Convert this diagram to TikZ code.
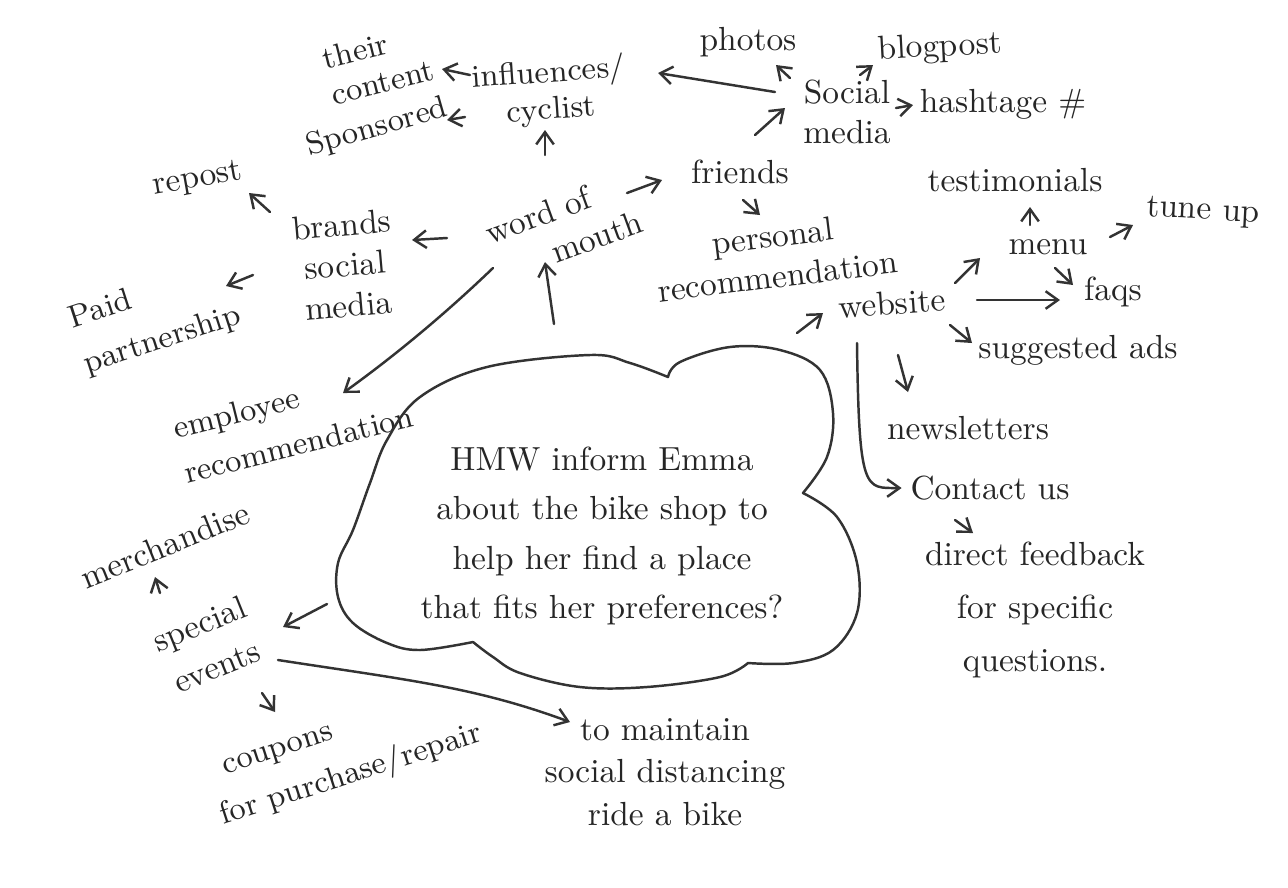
\documentclass[tikz,border=0pt]{standalone}
\usepackage{fontspec}
\usetikzlibrary{arrows.meta,calc}
\begin{document}
\begin{tikzpicture}[x=0.01cm,y=-0.01cm,
  lbl/.style={inner sep=1.5pt, font=\fontsize{9.5}{11.5}\selectfont, text=black!85, align=center},
  sm/.style={font=\fontsize{9}{10.5}\selectfont},
  arr/.style={-{Straight Barb[length=3.5pt,width=5pt]}, line width=0.7pt, draw=black!80, line cap=round, line join=round},
  ln/.style={line width=0.7pt, draw=black!80, line cap=round, line join=round}]
\useasboundingbox[fill=white] (0,0) rectangle (1288,887);

% nodes
\node[lbl, sm, rotate=14, align=left] (cont) at (378,64) {their\\content};
\node[lbl, sm, rotate=4] (infl) at (550,92) {influences/\\cyclist};
\node[lbl, sm, rotate=16] (spon) at (377,128) {Sponsored};
\node[lbl] (photos) at (748,42) {photos};
\node[lbl, rotate=3] (blog) at (940,48) {blogpost};
\node[lbl] (soc) at (847,112) {Social\\media};
\node[lbl] (hash) at (1003,104) {hashtage \#};
\node[lbl] (fr) at (740,172) {friends};
\node[lbl, rotate=20] (wom) at (545,234) {word of\\\hspace*{27pt}mouth};
\node[lbl, rotate=7] (pers) at (775,256) {personal\\recommendation};
\node[lbl, rotate=4] (web) at (892,303) {website};
\node[lbl] (menu) at (1048,247) {menu};
\node[lbl] (test) at (1015,180) {testimonials};
\node[lbl, rotate=-3] (tune) at (1203,212) {tune up};
\node[lbl] (faqs) at (1113,292) {faqs};
\node[lbl] (sugg) at (1078,350) {suggested ads};
\node[lbl] (news) at (968,428) {newsletters};
\node[lbl] (cont2) at (990,488) {Contact us};
\node[lbl, font=\fontsize{9.5}{15}\selectfont] (fb) at (1035,610) {direct feedback\\for specific\\questions.};
\node[lbl, rotate=10] (repost) at (198,180) {repost};
\node[lbl, font=\fontsize{9.5}{11.5}\selectfont, rotate=5] (brands) at (345,265) {brands\\social\\media};
\node[lbl, rotate=18, align=left, font=\fontsize{9}{13.5}\selectfont] (paid) at (155,318) {Paid\\partnership};
\node[lbl, rotate=14, align=left, font=\fontsize{9}{13}\selectfont] (emp) at (293,422) {employee\\recommendation};
\node[lbl, rotate=22] (merch) at (165,545) {merchandise};
\node[lbl, rotate=22, font=\fontsize{9.5}{13}\selectfont] (spec) at (208,645) {special\\events};
\node[lbl, rotate=18, align=left, font=\fontsize{9}{13.5}\selectfont] (coup) at (345,757) {\hspace*{5pt}coupons\\for purchase/repair};
\node[lbl, font=\fontsize{9.5}{12}\selectfont] (maint) at (665,772) {to maintain\\social distancing\\ride a bike};
\node[lbl, font=\fontsize{9.5}{14}\selectfont] (hmw) at (602,536) {HMW inform Emma\\about the bike shop to\\help her find a place\\that fits her preferences?};

% cloud
\draw[ln] plot[smooth, tension=0.6] coordinates {(473,642) (420,650) (387,643) (353,623) (338,597) (338,563) (353,530) (370,483) (387,440) (420,397) (487,367) (590,355) (630,363) (668,377)}
  -- plot[smooth, tension=0.6] coordinates {(668,377) (680,362) (730,347) (780,350) (820,370) (833,413) (827,457) (803,493)}
  -- plot[smooth, tension=0.6] coordinates {(803,493) (837,517) (857,563) (857,613) (833,650) (793,663) (748,663)}
  -- plot[smooth, tension=0.6] coordinates {(748,663) (720,677) (647,687) (580,687) (520,673) (493,657) (473,642)};
\coordinate (ctop) at (554,324);
\coordinate (cleft) at (327,604);

% connectors
\draw[arr] ($(infl)+(-80,-17)$) -- ($(cont)+(64,5)$);
\draw[arr] ($(infl)+(-85,25)$) -- ($(spon)+(70,-8)$);
\draw[arr] ($(wom)+(0,-79)$) -- ($(infl)+(-5,38)$);
\draw[arr] ($(soc)+(-72,-20)$) -- ($(infl)+(108,-19)$);
\draw[arr] ($(soc)+(-57,-34)$) -- ($(photos)+(28,23)$);
\draw[arr] ($(soc)+(13,-37)$) -- ($(blog)+(-67,17)$);
\draw[arr] ($(soc)+(49,-4)$) -- ($(hash)+(-90,1)$);
\draw[arr] ($(fr)+(15,-37)$) -- ($(soc)+(-62,-4)$);
\draw[arr] ($(wom)+(82,-41)$) -- ($(fr)+(-78,8)$);
\draw[arr] ($(fr)+(3,28)$) -- ($(pers)+(-15,-41)$);
\draw[arr] ($(pers)+(22,77)$) -- ($(web)+(-69,10)$);
\draw[arr] ($(web)+(63,-20)$) -- ($(menu)+(-68,11)$);
\draw[arr] ($(menu)+(-18,-22)$) -- ($(test)+(15,27)$);
\draw[arr] ($(menu)+(62,-10)$) -- ($(tune)+(-70,13)$);
\draw[arr] ($(menu)+(7,21)$) -- ($(faqs)+(-40,-7)$);
\draw[arr] ($(web)+(85,-3)$) -- ($(faqs)+(-53,8)$);
\draw[arr] ($(web)+(58,22)$) -- ($(sugg)+(-106,-7)$);
\draw[arr] ($(web)+(6,52)$) -- ($(news)+(-60,-36)$);
\draw[arr] ($(web)+(-35,40)$) .. controls ($(web)+(-33,190)$) and ($(cont2.west)+(-40,0)$) .. ($(cont2.west)+(-3,0)$);
\draw[arr] ($(cont2)+(-35,32)$) -- ($(fb)+(-62,-77)$);
\draw[arr] ($(wom)+(-98,4)$) -- ($(brands)+(67,-25)$);
\draw[arr] ($(brands)+(-75,-53)$) -- ($(repost)+(51,13)$);
\draw[arr] ($(brands)+(-92,10)$) -- ($(paid)+(71,-32)$);
\draw[arr] ($(wom)+(-52,34)$) .. controls ($(wom)+(-102,82)$) and ($(emp)+(100,-65)$) .. ($(emp)+(50,-29)$);
\draw[arr] (ctop) -- ($(wom)+(0,28)$);
\draw[arr] (cleft) -- ($(spec)+(75,-18)$);
\draw[arr] ($(spec)+(-48,-52)$) -- ($(merch)+(-10,32)$);
\draw[arr] ($(spec)+(54,48)$) -- ($(coup)+(-70,-45)$);
\draw[arr] ($(spec)+(70,15)$) .. controls ($(spec)+(200,35)$) and ($(maint)+(-190,-85)$) .. ($(maint)+(-95,-50)$);
\end{tikzpicture}
\end{document}
